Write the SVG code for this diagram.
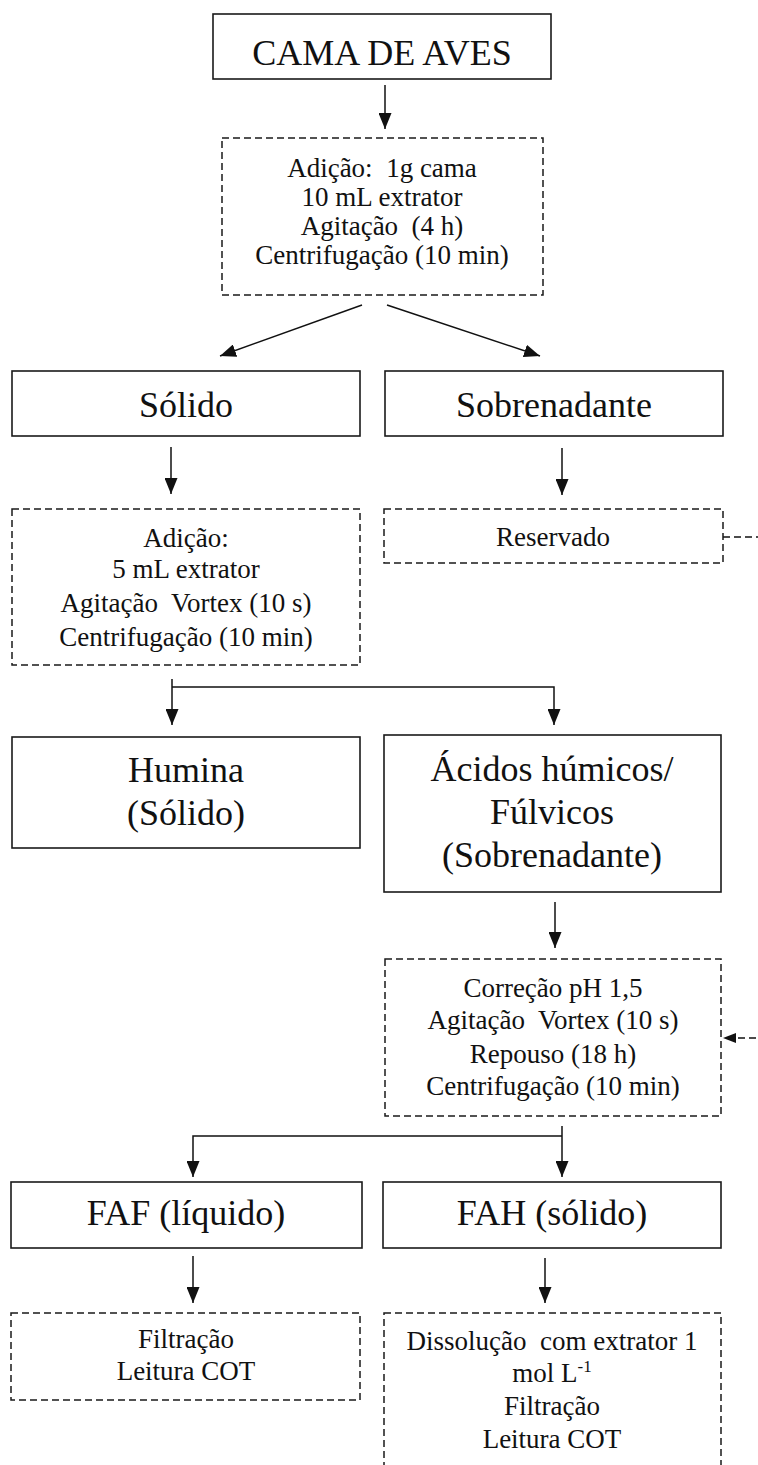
<svg xmlns="http://www.w3.org/2000/svg" width="758" height="1465" viewBox="0 0 758 1465">
<style>
.solid{fill:#fff;stroke:#1a1a1a;stroke-width:1.6}
.dash{fill:#fff;stroke:#1a1a1a;stroke-width:1.5;stroke-dasharray:7 4}
.big{font-family:"Liberation Serif","Times New Roman",serif;font-size:36px;fill:#111;text-anchor:middle}
.sm{font-family:"Liberation Serif","Times New Roman",serif;font-size:27px;fill:#111;text-anchor:middle}
.ln{fill:none;stroke:#111;stroke-width:1.5}
.dl{fill:none;stroke:#111;stroke-width:1.5;stroke-dasharray:7 4}
</style>
<defs>
<marker id="ah" viewBox="0 0 16 13" refX="16" refY="6.5" markerWidth="16" markerHeight="13" markerUnits="userSpaceOnUse" orient="auto">
<path d="M0,0 L16,6.5 L0,13 Z" fill="#111"/>
</marker>
<marker id="ahs" viewBox="0 0 13 10" refX="13" refY="5" markerWidth="13" markerHeight="10" markerUnits="userSpaceOnUse" orient="auto">
<path d="M0,0 L13,5 L0,10 Z" fill="#111"/>
</marker>
</defs>
<rect width="758" height="1465" fill="#fff"/>

<g id="connectors">
<path class="ln" d="M385,85 V129" marker-end="url(#ah)"/>
<path class="ln" d="M362,305 L220,356" marker-end="url(#ah)"/>
<path class="ln" d="M387,305 L540,356" marker-end="url(#ah)"/>
<path class="ln" d="M171,447 V494" marker-end="url(#ah)"/>
<path class="ln" d="M562,448 V495" marker-end="url(#ah)"/>
<path class="ln" d="M172,679 V725" marker-end="url(#ah)"/>
<path class="ln" d="M172,687 H554 V725" marker-end="url(#ah)"/>
<path class="ln" d="M555,902 V948" marker-end="url(#ah)"/>
<path class="ln" d="M562,1126 V1177" marker-end="url(#ah)"/>
<path class="ln" d="M562,1136 H193 V1177" marker-end="url(#ah)"/>
<path class="ln" d="M193,1256 V1303" marker-end="url(#ah)"/>
<path class="ln" d="M545,1258 V1303" marker-end="url(#ah)"/>
<path class="dl" d="M723,537 H775 V1038 H723" marker-end="url(#ahs)"/>
</g>

<g id="cama">
<rect class="solid" x="213" y="14" width="338" height="65"/>
<text class="big" x="382" y="65">CAMA DE AVES</text>
</g>

<g id="adicao1">
<rect class="dash" x="222" y="138" width="321" height="157"/>
<text class="sm" xml:space="preserve" x="382" y="177">Adição:  1g cama</text>
<text class="sm" x="382" y="206">10 mL extrator</text>
<text class="sm" xml:space="preserve" x="382" y="235">Agitação  (4 h)</text>
<text class="sm" x="382" y="264">Centrifugação (10 min)</text>
</g>

<g id="solido">
<rect class="solid" x="12" y="371" width="348" height="65"/>
<text class="big" x="186" y="417">Sólido</text>
</g>

<g id="sobrenadante">
<rect class="solid" x="385" y="371" width="338" height="65"/>
<text class="big" x="554" y="417">Sobrenadante</text>
</g>

<g id="adicao2">
<rect class="dash" x="12" y="509" width="348" height="156"/>
<text class="sm" x="186" y="547">Adição:</text>
<text class="sm" x="186" y="578">5 mL extrator</text>
<text class="sm" xml:space="preserve" x="186" y="612">Agitação  Vortex (10 s)</text>
<text class="sm" x="186" y="646">Centrifugação (10 min)</text>
</g>

<g id="reservado">
<rect class="dash" x="384" y="509" width="339" height="54"/>
<text class="sm" x="553" y="546">Reservado</text>
</g>

<g id="humina">
<rect class="solid" x="12" y="737" width="348" height="111"/>
<text class="big" x="186" y="782">Humina</text>
<text class="big" x="186" y="825">(Sólido)</text>
</g>

<g id="acidos">
<rect class="solid" x="384" y="735" width="337" height="157"/>
<text class="big" x="552" y="781">Ácidos húmicos/</text>
<text class="big" x="552" y="824">Fúlvicos</text>
<text class="big" x="552" y="867">(Sobrenadante)</text>
</g>

<g id="correcao">
<rect class="dash" x="385" y="959" width="336" height="157"/>
<text class="sm" x="553" y="997">Correção pH 1,5</text>
<text class="sm" xml:space="preserve" x="553" y="1029">Agitação  Vortex (10 s)</text>
<text class="sm" x="553" y="1063">Repouso (18 h)</text>
<text class="sm" x="553" y="1095">Centrifugação (10 min)</text>
</g>

<g id="faf">
<rect class="solid" x="11" y="1182" width="351" height="66"/>
<text class="big" x="186" y="1225">FAF (líquido)</text>
</g>

<g id="fah">
<rect class="solid" x="383" y="1182" width="338" height="66"/>
<text class="big" x="552" y="1225">FAH (sólido)</text>
</g>

<g id="filtracao">
<rect class="dash" x="11" y="1313" width="349" height="87"/>
<text class="sm" x="186" y="1348">Filtração</text>
<text class="sm" x="186" y="1380">Leitura COT</text>
</g>

<g id="dissolucao">
<rect class="dash" x="384" y="1313" width="337" height="170"/>
<text class="sm" xml:space="preserve" x="552" y="1350">Dissolução  com extrator 1</text>
<text class="sm" x="552" y="1382">mol L<tspan font-size="17" dy="-10">-1</tspan></text>
<text class="sm" x="552" y="1415">Filtração</text>
<text class="sm" x="552" y="1448">Leitura COT</text>
</g>
</svg>
